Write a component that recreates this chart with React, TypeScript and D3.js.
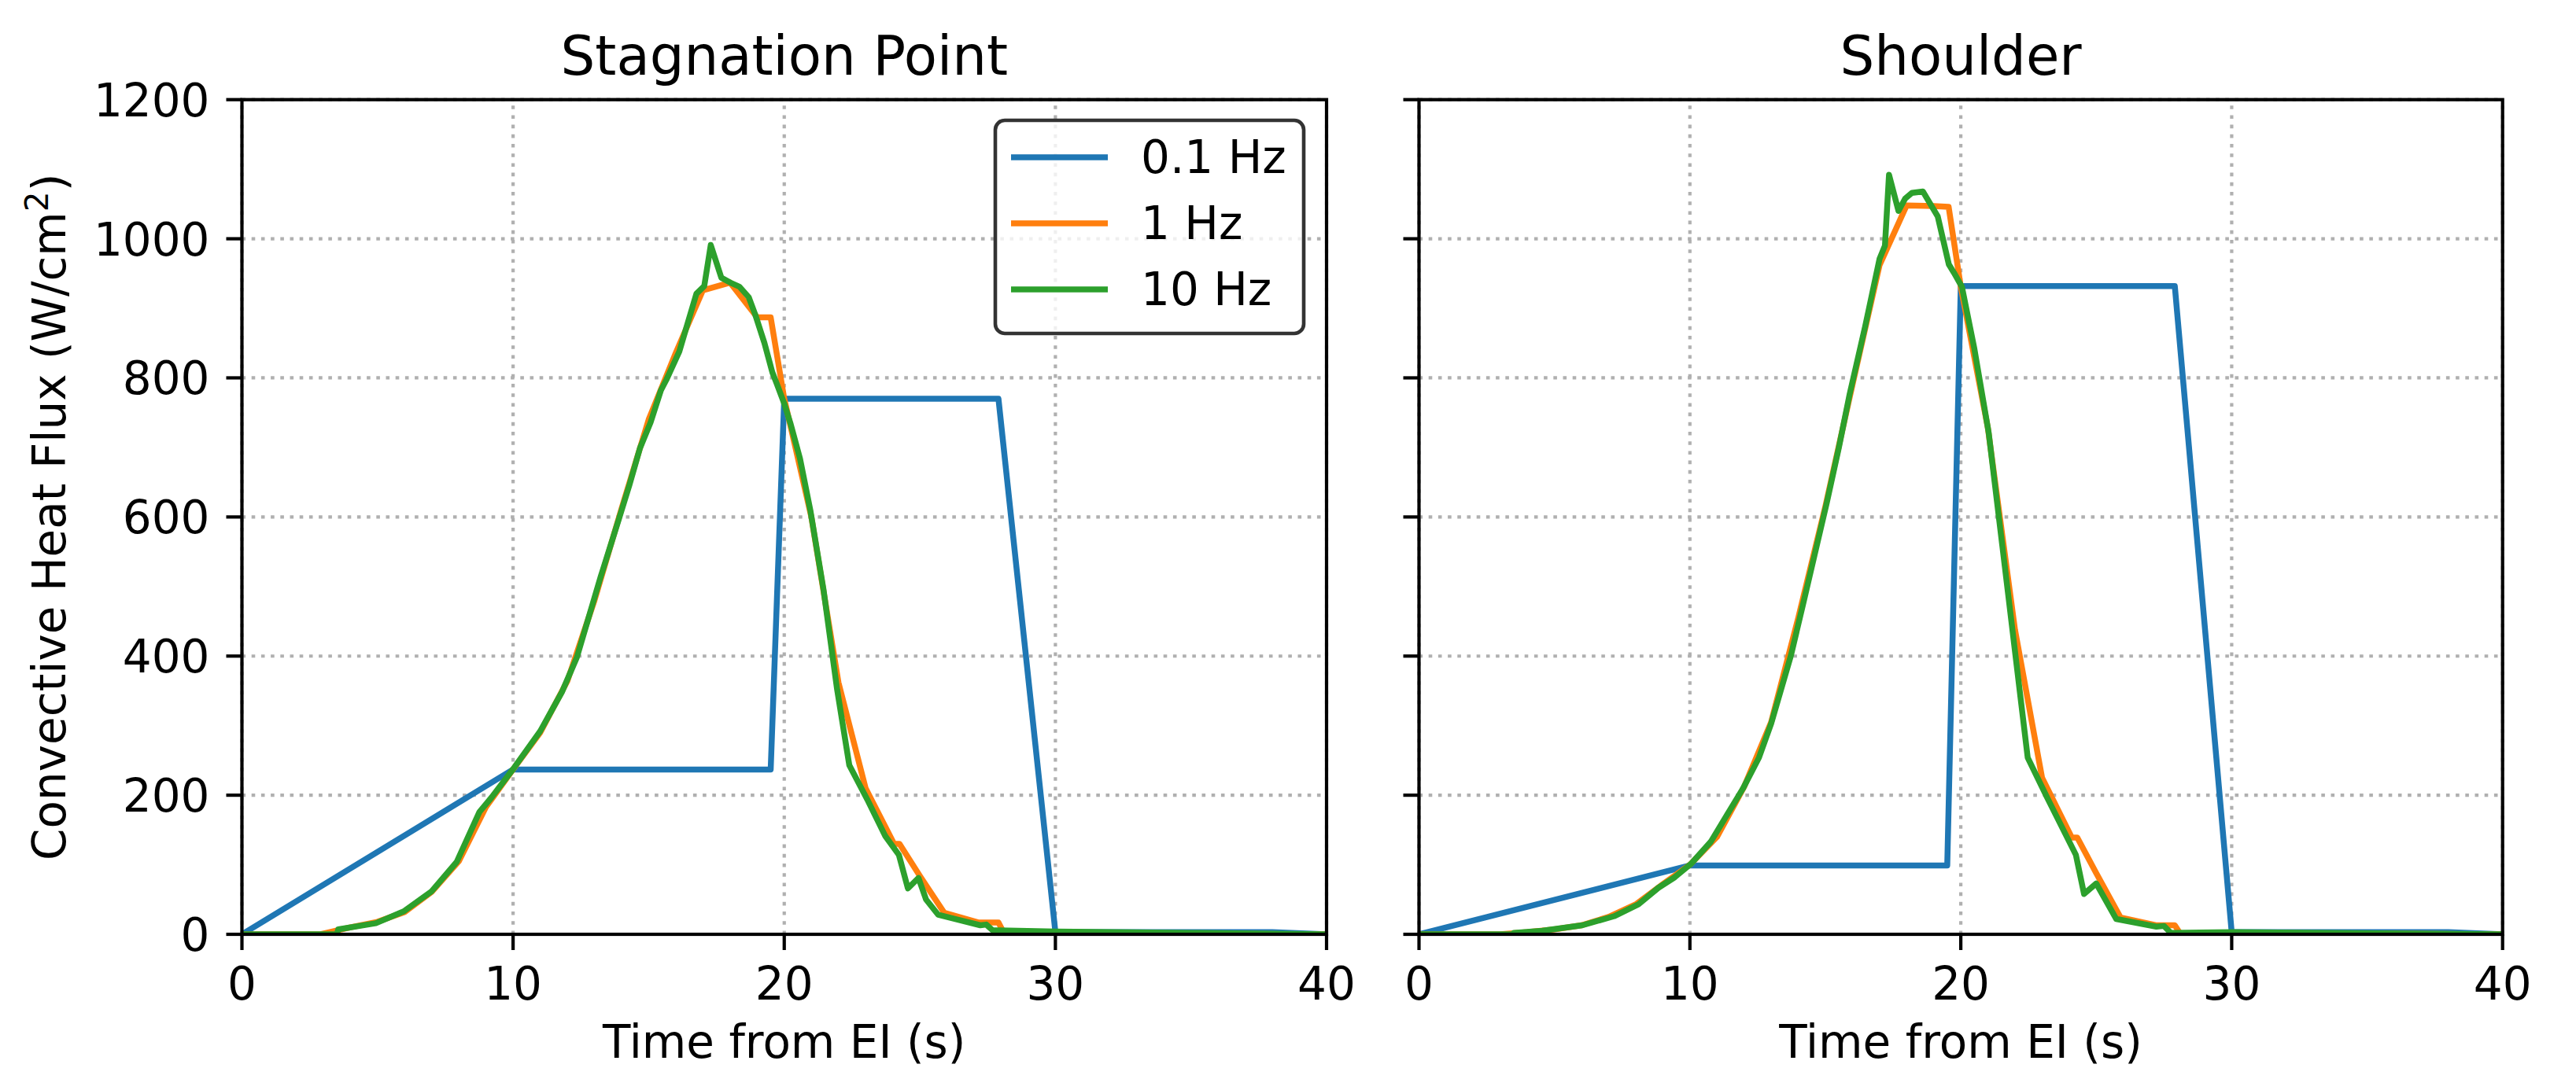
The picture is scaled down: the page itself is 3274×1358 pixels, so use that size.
import React from "react";
import * as d3 from "d3";

// ---------- data ----------
const xTicks = [0, 10, 20, 30, 40];
const yTicks = [0, 200, 400, 600, 800, 1000, 1200];
const seriesNames = ["0.1 Hz", "1 Hz", "10 Hz"];
const seriesColors = ["#1f77b4", "#ff7f0e", "#2ca02c"];
const panelTitles = ["Stagnation Point", "Shoulder"];

const stag01Hz: [number, number][] = [
  [0, 0], [10, 237], [19.5, 237], [20, 770], [27.9, 770], [30, 3], [38, 3], [40, 0],
];
const stag1Hz: [number, number][] = [
  [0, 0], [2.9, 0], [4, 10], [5, 18], [6, 32], [7, 61], [8, 105], [9, 183], [10, 237],
  [11, 290], [12, 364], [13, 480], [14, 612], [15, 740], [16, 836], [17, 926], [18, 937],
  [19, 887], [19.5, 887], [20, 770], [21, 600], [22, 362], [23, 210], [24.05, 130],
  [24.25, 130], [25, 84], [25.9, 31], [27.15, 17], [27.9, 17], [28.1, 2], [30, 2], [40, 0],
];
const stag10Hz: [number, number][] = [
  [0, 0], [3.5, 0], [3.55, 7], [4.94, 16], [5.97, 33], [7.0, 62], [7.92, 104], [8.76, 176],
  [9.21, 197], [9.99, 237], [11.0, 292], [11.81, 349], [12.35, 398],
  [13.23, 514], [13.9, 597], [14.29, 646], [14.68, 699], [15.07, 736], [15.45, 782],
  [15.65, 797], [16.13, 838], [16.76, 921], [17.05, 932], [17.29, 991], [17.68, 944],
  [18.06, 936], [18.35, 931], [18.69, 916], [18.93, 891], [19.27, 850], [19.56, 808],
  [19.71, 793], [20.0, 763], [20.24, 733], [20.58, 684], [20.97, 608], [21.45, 495],
  [21.95, 352], [22.4, 243], [23.06, 194], [23.73, 141], [24.23, 114], [24.56, 66],
  [24.95, 81], [25.23, 50], [25.68, 28], [26.4, 21], [27.23, 13], [27.45, 14], [27.68, 6],
  [30, 4], [35, 2], [40, 0],
];

const shoulder01Hz: [number, number][] = [
  [0, 0], [10, 99], [19.5, 99], [20, 932], [27.9, 932], [30, 3], [38, 3], [40, 0],
];
const shoulder1Hz: [number, number][] = [
  [0, 0], [3, 0], [4, 3], [5, 7], [6, 13], [7, 25], [8, 43], [9, 72], [10, 100], [11, 140],
  [12, 212], [13, 305], [14, 455], [15, 615], [16, 790], [17, 962], [18, 1048], [19, 1047],
  [19.55, 1046], [20, 931], [21, 728], [22, 438], [23, 225], [24.1, 139], [24.3, 139],
  [25, 88], [25.9, 24], [27.2, 13], [27.9, 13], [28.1, 1], [30, 2], [40, 0],
];
const shoulder10Hz: [number, number][] = [
  [0, 0], [3.45, 0], [3.5, 2], [4.55, 5], [6.03, 13], [7.2, 26], [8.1, 43], [8.84, 67],
  [9.44, 82], [10.03, 101], [10.77, 133], [11.36, 171], [11.95, 209], [12.55, 254],
  [13.0, 303], [13.73, 401], [14.18, 475], [14.6, 545], [15.05, 620], [15.5, 700],
  [15.9, 777], [16.47, 874], [17.0, 971], [17.2, 990], [17.35, 1092], [17.7, 1040],
  [17.95, 1058], [18.2, 1066], [18.6, 1068], [19.15, 1032], [19.56, 963], [19.75, 951],
  [20.04, 931], [20.5, 842], [21.03, 721], [21.73, 495], [22.47, 254], [23.22, 194],
  [24.25, 114], [24.55, 58], [25.0, 73], [25.74, 22], [27.22, 11], [27.5, 12], [27.75, 2],
  [30, 3], [40, 0],
];

const panelSeries = [
  [stag01Hz, stag1Hz, stag10Hz],
  [shoulder01Hz, shoulder1Hz, shoulder10Hz],
];

// ---------- layout ----------
const W = 3274;
const H = 1358;
const FONT = "DejaVu Sans";
const TICK_FS = 58;
const TITLE_FS = 69;
const LINE_W = 7.5;
const panelX: [number, number][] = [
  [307.5, 1686],
  [1803.5, 3180.7],
];
const yTop = 126.7;
const yBot = 1188;

function Panel({ idx }: { idx: number }) {
  const [x0, x1] = panelX[idx];
  const x = d3.scaleLinear().domain([0, 40]).range([x0, x1]);
  const y = d3.scaleLinear().domain([0, 1200]).range([yBot, yTop]);
  const line = d3
    .line<[number, number]>()
    .x((d) => x(d[0]))
    .y((d) => y(d[1]));
  const clipId = `clip${idx}`;
  const cx = (x0 + x1) / 2;
  return (
    <g>
      <defs>
        <clipPath id={clipId}>
          <rect x={x0} y={yTop} width={x1 - x0} height={yBot - yTop} />
        </clipPath>
      </defs>
      {/* grid */}
      <g stroke="#b0b0b0" strokeWidth={4.2} strokeDasharray="4.6 7.6">
        {xTicks.map((t) => (
          <line key={"gx" + t} x1={x(t)} x2={x(t)} y1={yBot} y2={yTop} />
        ))}
        {yTicks.map((t) => (
          <line key={"gy" + t} x1={x0} x2={x1} y1={y(t)} y2={y(t)} />
        ))}
      </g>
      {/* series */}
      <g clipPath={`url(#${clipId})`} fill="none" strokeWidth={LINE_W} strokeLinejoin="round" strokeLinecap="butt">
        {panelSeries[idx].map((s, i) => (
          <path key={i} d={line(s) || ""} stroke={seriesColors[i]} />
        ))}
      </g>
      {/* spines */}
      <rect x={x0} y={yTop} width={x1 - x0} height={yBot - yTop} fill="none" stroke="#000" strokeWidth={4.2} />
      {/* x ticks */}
      {xTicks.map((t) => (
        <g key={"xt" + t}>
          <line x1={x(t)} x2={x(t)} y1={yBot} y2={yBot + 20} stroke="#000" strokeWidth={4.2} />
          <text x={x(t)} y={1271} textAnchor="middle" fontFamily={FONT} fontSize={TICK_FS} fill="#000">
            {t}
          </text>
        </g>
      ))}
      {/* y ticks */}
      {yTicks.map((t) => (
        <g key={"yt" + t}>
          <line x1={x0 - 20} x2={x0} y1={y(t)} y2={y(t)} stroke="#000" strokeWidth={4.2} />
          {idx === 0 && (
            <text x={x0 - 41} y={y(t) + 21} textAnchor="end" fontFamily={FONT} fontSize={TICK_FS} fill="#000">
              {t}
            </text>
          )}
        </g>
      ))}
      {/* title */}
      <text x={cx} y={95} textAnchor="middle" fontFamily={FONT} fontSize={TITLE_FS} fill="#000">
        {panelTitles[idx]}
      </text>
      {/* x label */}
      <text x={cx} y={1345} textAnchor="middle" fontFamily={FONT} fontSize={TICK_FS} fill="#000">
        Time from EI (s)
      </text>
      {idx === 0 && (
        <text
          transform={`translate(${83}, ${(yTop + yBot) / 2}) rotate(-90)`}
          textAnchor="middle"
          fontFamily={FONT}
          fontSize={TICK_FS}
          fill="#000"
        >
          Convective Heat Flux (W/cm
          <tspan fontSize={TICK_FS * 0.7} dy={-22}>2</tspan>
          <tspan dy={22}>)</tspan>
        </text>
      )}
      {idx === 0 && <Legend />}
    </g>
  );
}

function Legend() {
  const bx = 1265, by = 153, bw = 392, bh = 271;
  const rowY = [200, 284, 368];
  return (
    <g>
      <rect x={bx} y={by} width={bw} height={bh} rx={12} ry={12} fill="#fff" fillOpacity={0.8} stroke="#333" strokeWidth={4.6} />
      {seriesNames.map((n, i) => (
        <g key={n}>
          <line x1={1285} x2={1408} y1={rowY[i]} y2={rowY[i]} stroke={seriesColors[i]} strokeWidth={LINE_W} />
          <text x={1450} y={rowY[i] + 20} fontFamily={FONT} fontSize={TICK_FS} fill="#000">
            {n}
          </text>
        </g>
      ))}
    </g>
  );
}

export default function App() {
  return (
    <svg
      width={W}
      height={H}
      viewBox={`0 0 ${W} ${H}`}
      style={{ position: "absolute", left: 0, top: 0, display: "block", background: "#fff" }}
    >
      <rect x={0} y={0} width={W} height={H} fill="#fff" />
      <Panel idx={0} />
      <Panel idx={1} />
    </svg>
  );
}
